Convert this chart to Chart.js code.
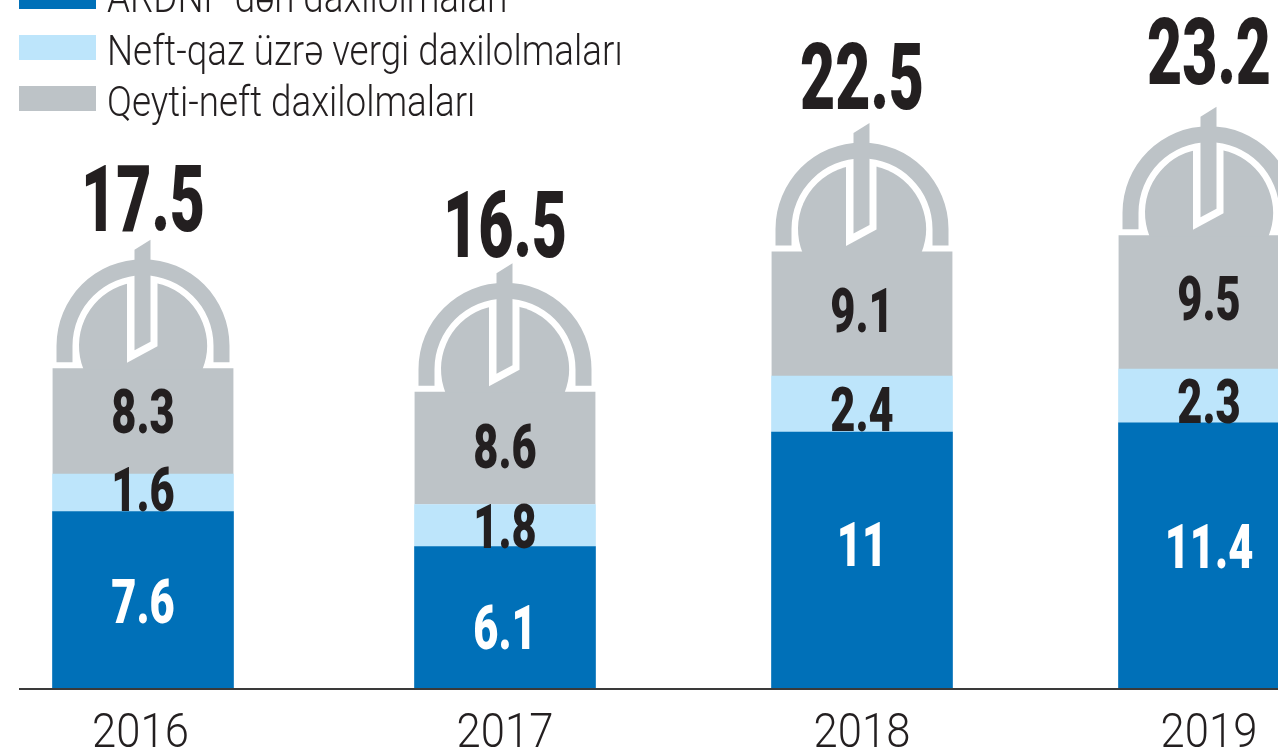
<!DOCTYPE html>
<html>
<head>
<meta charset="utf-8">
<title>Büdcə daxilolmaları</title>
<script src="https://cdn.jsdelivr.net/npm/chart.js@4/dist/chart.umd.min.js"></script>
<style>
  html, body { margin: 0; padding: 0; background: #fff; overflow: hidden; }
  canvas { display: block; }
</style>
</head>
<body>
<canvas id="budgetChart" width="1278" height="749"></canvas>
<script>
const years = ["2016", "2017", "2018", "2019"];
const fundValues = [7.6, 6.1, 11, 11.4];
const oilGasValues = [1.6, 1.8, 2.4, 2.3];
const nonOilValues = [8.3, 8.6, 9.1, 9.5];
const totals = [17.5, 16.5, 22.5, 23.2];
const seriesNames = ["ARDNF-dən daxilolmaları", "Neft-qaz üzrə vergi daxilolmaları", "Qeyti-neft daxilolmaları"];

const colors = { fund: "#0070b8", oilGas: "#bde5fb", nonOil: "#bdc3c7", text: "#231f20" };

// the years are not evenly spaced in the picture
const barCenters = [143, 505, 862, 1209];

// labels are placed by hand in the original, so they sit off the segment centres
const fundLabelNudge = [1, 9, -17, -10];
const oilGasLabelNudge = [-3.5, 0, 5, 5];
const nonOilLabelNudge = [-10, -2, -4, -4];
const totalLabelGap = [82, 79, 87, 96];
const tickNudge = [-2.5, 0, 0, 0];

class PlacedCategoryScale extends Chart.CategoryScale {
  getPixelForValue(value) {
    const index = value === null || value === undefined ? 0 : value;
    return barCenters[index];
  }
}
PlacedCategoryScale.id = "placedCategory";
PlacedCategoryScale.defaults = Chart.CategoryScale.defaults;
Chart.register(PlacedCategoryScale);

// y is the visual middle of the digits
function drawText(ctx, text, x, y, weight, size, squeeze, color, align) {
  ctx.save();
  ctx.font = weight + " " + size + "px Roboto";
  ctx.fillStyle = color;
  ctx.textBaseline = "alphabetic";
  ctx.textAlign = align || "center";
  ctx.translate(x, y + size * 0.355);
  ctx.scale(squeeze, 1);
  ctx.fillText(text, 0, 0);
  ctx.restore();
}

// y offset of the flat shoulder below the top of the grey bar
const shoulder = 88;

function drawDome(ctx, cx, top) {
  const cy = top + 65.5;
  const legEnd = top + 82;
  ctx.save();
  // outer ring
  ctx.fillStyle = colors.nonOil;
  ctx.beginPath();
  ctx.arc(cx, cy, 86.5, Math.PI, 0);
  ctx.lineTo(cx + 86.5, legEnd);
  ctx.lineTo(cx + 70.5, legEnd);
  ctx.lineTo(cx + 70.5, cy);
  ctx.arc(cx, cy, 70.5, 0, Math.PI, true);
  ctx.lineTo(cx - 70.5, legEnd);
  ctx.lineTo(cx - 86.5, legEnd);
  ctx.closePath();
  ctx.fill();
  // inner dome
  const cut = Math.asin(23.5 / 64);
  ctx.beginPath();
  ctx.arc(cx, cy, 64, Math.PI - cut, 2 * Math.PI + cut);
  ctx.closePath();
  ctx.fill();
  // white outline of the stem
  ctx.fillStyle = "#fff";
  ctx.beginPath();
  ctx.moveTo(cx - 16, cy - 66);
  ctx.lineTo(cx + 14.5, cy - 66);
  ctx.lineTo(cx + 14.5, cy + 0.5);
  ctx.lineTo(cx - 16, cy + 17);
  ctx.closePath();
  ctx.fill();
  // stem and tip
  ctx.fillStyle = colors.nonOil;
  ctx.beginPath();
  ctx.moveTo(cx - 8.5, cy - 96);
  ctx.lineTo(cx + 7.5, cy - 106);
  ctx.lineTo(cx + 7.5, cy - 4);
  ctx.lineTo(cx - 8.5, cy + 4.5);
  ctx.closePath();
  ctx.fill();
  ctx.restore();
}

const domeBars = {
  id: "domeBars",
  beforeDatasetDraw(chart, args) {
    if (args.index !== 2) return;
    const ctx = chart.ctx;
    ctx.save();
    ctx.beginPath();
    args.meta.data.forEach((bar) => {
      ctx.rect(bar.x - bar.width / 2, bar.y + shoulder, bar.width, bar.base - bar.y - shoulder);
    });
    ctx.clip();
  },
  afterDatasetDraw(chart, args) {
    if (args.index !== 2) return;
    chart.ctx.restore();
    args.meta.data.forEach((bar) => drawDome(chart.ctx, bar.x, bar.y));
  },
  afterDraw(chart) {
    const ctx = chart.ctx;
    const fund = chart.getDatasetMeta(0).data;
    const oilGas = chart.getDatasetMeta(1).data;
    const nonOil = chart.getDatasetMeta(2).data;
    years.forEach((year, i) => {
      const x = fund[i].x;
      drawText(ctx, String(fundValues[i]), x, (fund[i].y + fund[i].base) / 2 + fundLabelNudge[i], 900, 62, 0.7, "#fff");
      drawText(ctx, String(oilGasValues[i]), x, (oilGas[i].y + oilGas[i].base) / 2 + oilGasLabelNudge[i], 900, 62, 0.7, colors.text);
      drawText(ctx, String(nonOilValues[i]), x, (nonOil[i].y + shoulder + nonOil[i].base) / 2 + nonOilLabelNudge[i], 900, 62, 0.7, colors.text);
      drawText(ctx, totals[i].toFixed(1), x, nonOil[i].y - totalLabelGap[i], 900, 92, 0.66, colors.text);
      drawText(ctx, chart.scales.x.getLabelForValue(i), x + tickNudge[i], 730, 300, 49, 0.89, colors.text);
    });
    // legend, its first row runs off the top of the picture
    const rows = [
      { top: -16, textY: -3, color: colors.fund },
      { top: 35, textY: 50, color: colors.oilGas },
      { top: 86, textY: 101, color: colors.nonOil },
    ];
    rows.forEach((row, i) => {
      ctx.fillStyle = row.color;
      ctx.fillRect(19, row.top, 77, 25);
      drawText(ctx, seriesNames[i], 107, row.textY, 300, 43, 0.855, colors.text, "left");
    });
  },
};

new Chart(document.getElementById("budgetChart"), {
  type: "bar",
  data: {
    labels: years,
    datasets: [
      { label: seriesNames[0], data: fundValues, backgroundColor: colors.fund },
      { label: seriesNames[1], data: oilGasValues, backgroundColor: colors.oilGas },
      { label: seriesNames[2], data: nonOilValues, backgroundColor: colors.nonOil },
    ],
  },
  options: {
    responsive: false,
    animation: false,
    layout: { padding: { left: 20, bottom: 52, top: 0, right: 0 } },
    datasets: { bar: { barThickness: 181, clip: false } },
    plugins: { legend: { display: false }, tooltip: { enabled: false } },
    scales: {
      x: {
        type: "placedCategory",
        stacked: true,
        grid: { display: false },
        ticks: { display: false },
        border: { display: true, color: "#3a3a3a", width: 2, z: 1 },
      },
      y: { stacked: true, display: false, min: 0, max: 29.5 },
    },
  },
  plugins: [domeBars],
});
</script>
</body>
</html>
